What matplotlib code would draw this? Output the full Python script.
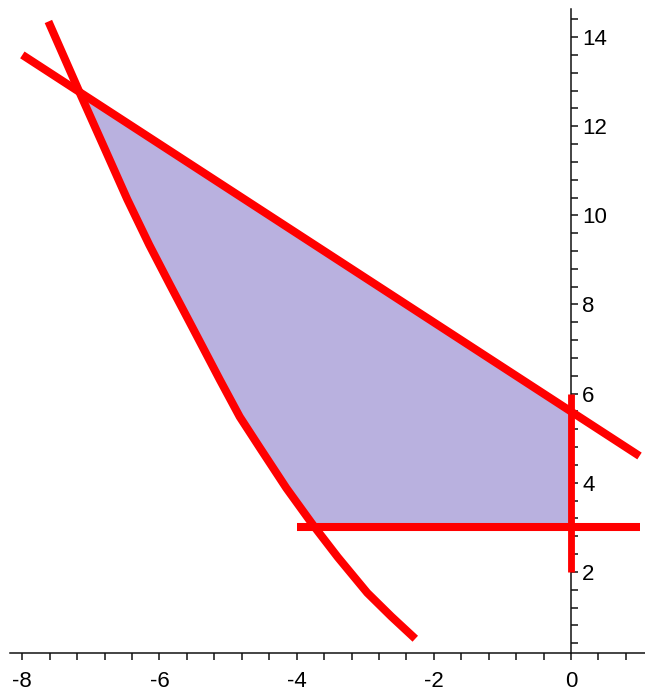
import numpy as np
import matplotlib.pyplot as plt
from matplotlib.ticker import MultipleLocator

# boundary curve
curve_x = [-7.62, -7.16, -6.80, -6.47, -6.15, -5.85, -5.45, -5.12, -4.83, -4.53, -4.15, -3.76, -3.40, -2.97, -2.62, -2.27]
curve_y = [14.35, 12.74, 11.50, 10.36, 9.34, 8.45, 7.28, 6.31, 5.48, 4.77, 3.88, 3.05, 2.33, 1.53, 1.00, 0.50]

# straight constraint y = c - x
line_c = 5.6
line_xrange = [-8.0, 1.0]
# horizontal y = 3 and vertical x = 0 segments
h_y = 3.0
h_xrange = [-4.0, 1.0]
v_x = 0.0
v_yrange = [2.0, 6.0]

red = '#FF0000'
fill_col = '#B9B1DF'

plt.rcParams['font.family'] = ['Liberation Sans', 'DejaVu Sans']
plt.rcParams['axes.unicode_minus'] = False

fig = plt.figure(figsize=(6.45, 6.94), dpi=100)
ax = fig.add_axes([10 / 645, 41 / 694, 635 / 645, 644 / 694])
ax.set_xlim(-8.18, 1.08)
ax.set_ylim(0.18, 14.63)

cx = np.array(curve_x)
cy = np.array(curve_y)

# corners of the shaded region, found from the data
xs = np.linspace(cx[0], cx[-1], 4000)
ys = np.interp(xs, cx, cy)
top_x = xs[np.argmin(np.abs(ys - (line_c - xs)))]
top_y = line_c - top_x
bot_x = np.interp(h_y, cy[::-1], cx[::-1])
mask = (cx > top_x) & (cx < bot_x)
poly_x = [top_x, v_x, v_x, bot_x] + list(cx[mask][::-1]) + [top_x]
poly_y = [top_y, line_c - v_x, h_y, h_y] + list(cy[mask][::-1]) + [top_y]
ax.fill(poly_x, poly_y, color=fill_col, lw=0, zorder=1)

lw = 5.8
lx = np.array(line_xrange)
ax.plot(lx, line_c - lx, color=red, lw=lw, solid_capstyle='butt', zorder=3)
ax.plot(cx, cy, color=red, lw=lw, solid_capstyle='butt', solid_joinstyle='round', zorder=3)
ax.plot(h_xrange, [h_y, h_y], color=red, lw=lw, solid_capstyle='butt', zorder=3)
ax.plot([v_x, v_x], v_yrange, color=red, lw=lw * 0.85, solid_capstyle='butt', zorder=3)

# maple-like axes
for s in ['top', 'left']:
    ax.spines[s].set_visible(False)
ax.spines['right'].set_position(('data', 0))
ax.spines['right'].set_zorder(2)
ax.spines['bottom'].set_zorder(2)
for s in ['right', 'bottom']:
    ax.spines[s].set_linewidth(1.1)
    ax.spines[s].set_color('#111111')
ax.yaxis.tick_right()
ax.xaxis.set_minor_locator(MultipleLocator(0.4))
ax.yaxis.set_minor_locator(MultipleLocator(0.4))
ax.set_xticks([-8, -6, -4, -2, 0])
ax.set_yticks([2, 4, 6, 8, 10, 12, 14])
ax.tick_params(which='both', length=5, width=1.1, color='#111111', direction='out')
ax.tick_params(axis='x', labelsize=16, pad=8)
ax.tick_params(axis='y', labelsize=16, pad=3)
ax.patch.set_alpha(0)

fig.savefig('out.png', dpi=100)
